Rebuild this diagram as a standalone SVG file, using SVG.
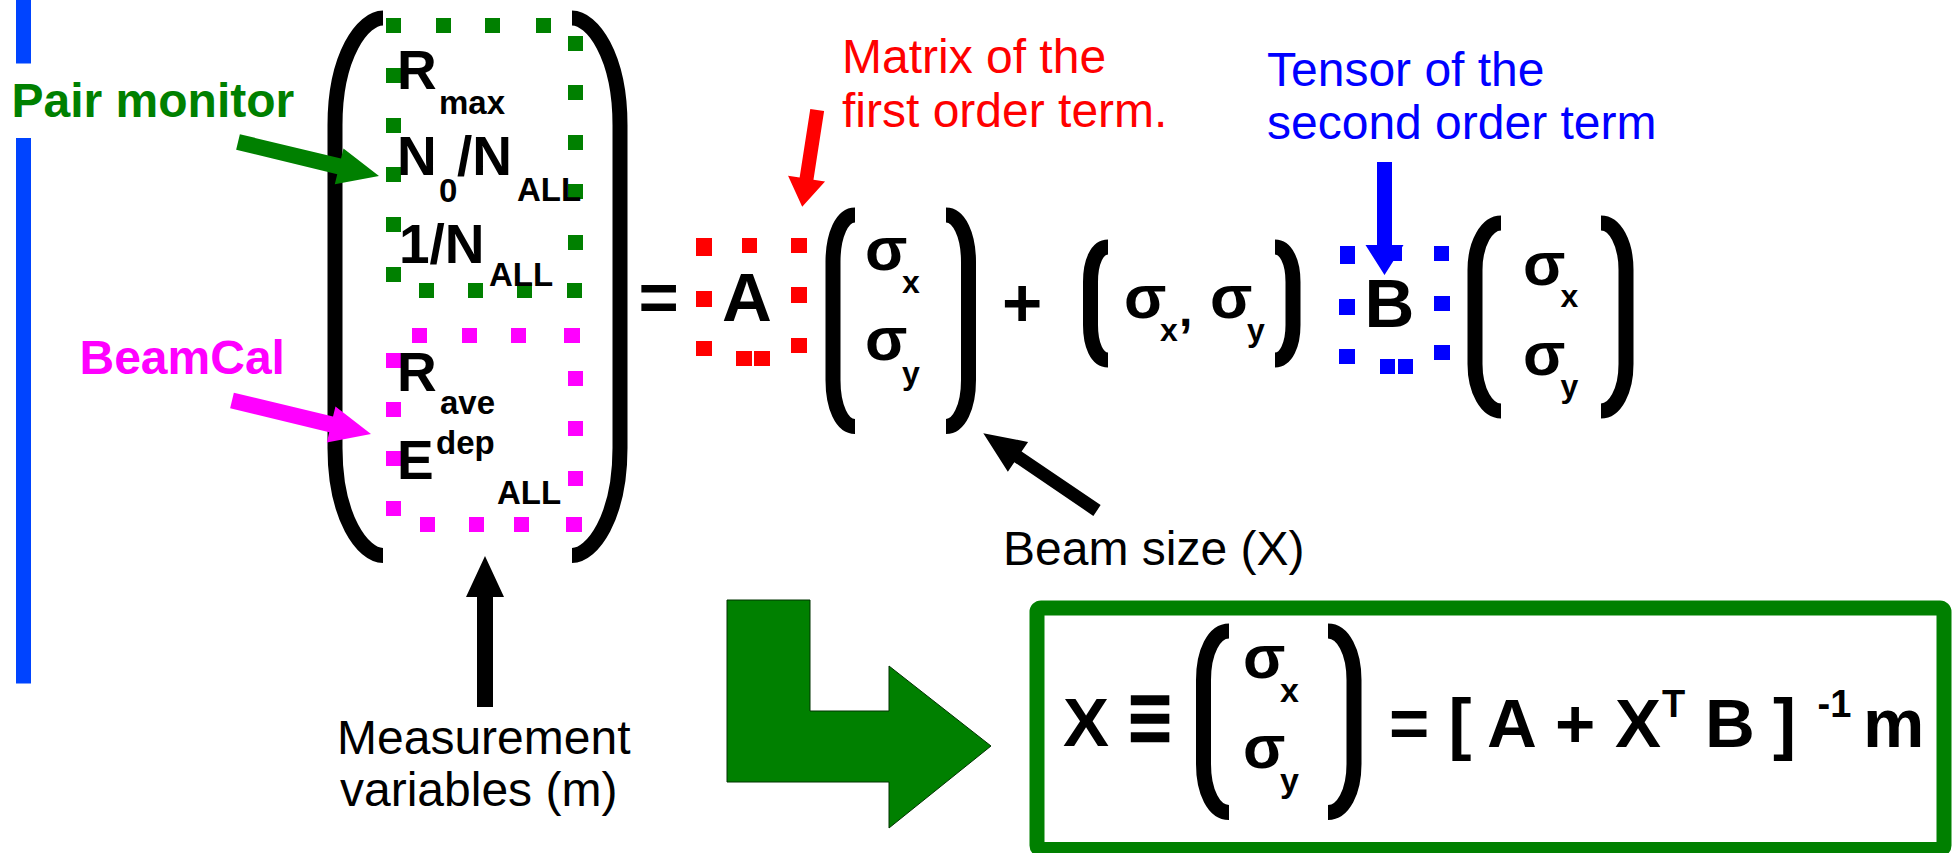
<svg xmlns="http://www.w3.org/2000/svg" width="1958" height="853" viewBox="0 0 1958 853">
<style>
text{font-family:"Liberation Sans",Arial,"DejaVu Sans",sans-serif}
.bk{font-weight:bold;fill:#000}
.m{font-size:55px}
.s{font-size:33px}
.big{font-size:69px}
.sg{font-size:62px}
.sub{font-size:32px}
.lab{font-size:48px}
.par{fill:none;stroke:#000;stroke-width:15;stroke-linecap:butt}
.arr{stroke:none}
</style>
<rect width="1958" height="853" fill="#fff"/>

<g id="left-bar" fill="#0044ff">
<rect x="16" y="0" width="15" height="63.5"/>
<rect x="16" y="138" width="15" height="545.5"/>
</g>

<g id="label-pair-monitor"><text x="11.5" y="117" class="lab" font-weight="bold" fill="#008000">Pair monitor</text></g>
<g id="label-beamcal"><text x="79.5" y="374" class="lab" font-weight="bold" fill="#ff00ff">BeamCal</text></g>

<g id="measurement-vector">
<path class="par" d="M383,18 C363,18 335,55 335,125 L335,448 C335,518 363,555.5 383,555.5"/>
<path class="par" d="M572,18 C592,18 620,55 620,125 L620,448 C620,518 592,555.5 572,555.5"/>
<path id="pair-box" fill="#008000" d="M386,18h15v15h-15z M436,18h15v15h-15z M485,18h15v15h-15z M536,18h15v15h-15z M568,36h15v15h-15z M568,85h15v15h-15z M568,135h15v15h-15z M568,184h15v15h-15z M568,235h15v15h-15z M567,283h15v15h-15z M419,283h15v15h-15z M468,283h15v15h-15z M517,283h15v15h-15z M386,68h15v15h-15z M386,118h15v15h-15z M386,167h15v15h-15z M386,217h15v15h-15z M386,267h15v15h-15z"/>
<path id="beamcal-box" fill="#ff00ff" d="M412,328h15v15h-15z M462,328h15v15h-15z M511,328h15v15h-15z M564,328h16v15h-16z M386,353h15v15h-15z M386,402h15v15h-15z M386,451h15v15h-15z M386,501h15v15h-15z M568,371h15v15h-15z M568,421h15v15h-15z M568,471h15v15h-15z M420,517h15v15h-15z M469,517h15v15h-15z M514,517h15v15h-15z M566,517h16v15h-16z"/>
<text class="bk"><tspan class="m" x="397" y="89">R</tspan><tspan class="s" x="439" y="114">max</tspan></text>
<text class="bk"><tspan class="m" x="397" y="175">N</tspan><tspan class="s" x="439" y="202">0</tspan><tspan class="m" x="457" y="175">/N</tspan><tspan class="s" x="517" y="201">ALL</tspan></text>
<text class="bk"><tspan class="m" x="399" y="262.5">1/N</tspan><tspan class="s" x="489" y="286">ALL</tspan></text>
<text class="bk"><tspan class="m" x="397" y="391">R</tspan><tspan class="s" x="440" y="414">ave</tspan></text>
<text class="bk"><tspan class="m" x="397" y="478.6">E</tspan><tspan class="s" x="436" y="453.6">dep</tspan><tspan class="s" x="497" y="503.6">ALL</tspan></text>
</g>

<g id="equals"><text x="638.5" y="321" class="bk big">=</text></g>

<g id="term-A">
<path fill="#ff0000" d="M696,238h16v18h-16z M742,238h15v15h-15z M791,238h16v15h-16z M696,291h16v16h-16z M696,341h16v15h-16z M791,287h16v16h-16z M791,338h16v15h-16z M736,351h16v15h-16z M754,351h16v15h-16z"/>
<text x="722" y="321" class="bk big">A</text>
</g>

<g id="beam-size-column">
<path class="par" d="M855,215 C842,215 833,235 833,262 L833,380 C833,407 842,426.5 855,426.5"/>
<path class="par" d="M946,215 C959,215 968.5,235 968.5,262 L968.5,380 C968.5,407 959,426.5 946,426.5"/>
<text class="bk"><tspan class="sg" x="865" y="270">σ</tspan><tspan class="sub" x="902" y="293">x</tspan></text>
<text class="bk"><tspan class="sg" x="865" y="360">σ</tspan><tspan class="sub" x="902" y="383.5">y</tspan></text>
</g>

<g id="plus"><text x="1002" y="326" class="bk big">+</text></g>

<g id="beam-size-row">
<path class="par" d="M1108,247 C1097,247 1090.5,262 1090.5,282 L1090.5,325 C1090.5,345 1097,360 1108,360"/>
<path class="par" d="M1275,247 C1286,247 1293,262 1293,282 L1293,325 C1293,345 1286,360 1275,360"/>
<text class="bk"><tspan class="sg" x="1124" y="318">σ</tspan><tspan class="sub" x="1160" y="340.5">x</tspan><tspan font-size="48" x="1179" y="326">,</tspan><tspan class="sg" x="1210" y="318">σ</tspan><tspan class="sub" x="1247" y="340.5">y</tspan></text>
</g>

<g id="term-B">
<path fill="#0000ff" d="M1340,246h15v18h-15z M1388,247h14v14h-14z M1434,246h15v15h-15z M1339,299h16v16h-16z M1339,349h16v15h-16z M1434,296h16v15h-16z M1434,345h16v15h-16z M1380,359h15v15h-15z M1398,359h15v15h-15z"/>
<text x="1364.5" y="327" class="bk big">B</text>
</g>

<g id="beam-size-column-2">
<path class="par" d="M1501,223 C1487,223 1475,243 1475,270 L1475,364 C1475,391 1487,411 1501,411"/>
<path class="par" d="M1601,223 C1615,223 1626,243 1626,270 L1626,364 C1626,391 1615,411 1601,411"/>
<text class="bk"><tspan class="sg" x="1523" y="285">σ</tspan><tspan class="sub" x="1560.5" y="307">x</tspan></text>
<text class="bk"><tspan class="sg" x="1523" y="375">σ</tspan><tspan class="sub" x="1560.5" y="396.5">y</tspan></text>
</g>

<g id="label-matrix" fill="#ff0000"><text class="lab"><tspan x="842" y="72.7">Matrix of the</tspan><tspan x="842" y="126.7">first order term.</tspan></text></g>
<g id="label-tensor" fill="#0000ff"><text class="lab"><tspan x="1267" y="86">Tensor of the</tspan><tspan x="1267" y="139.3">second order term</tspan></text></g>
<g id="label-beam-size"><text x="1003" y="565" class="lab" fill="#000">Beam size (X)</text></g>
<g id="label-measurement" fill="#000"><text class="lab"><tspan x="337" y="754">Measurement</tspan><tspan x="340" y="806">variables (m)</tspan></text></g>

<g id="result-box">
<rect x="1037" y="608" width="907" height="241.5" rx="4" fill="#fff" stroke="#008000" stroke-width="15"/>
<text x="1063" y="746" class="bk big">X</text>
<text transform="translate(1128,754) scale(1.1,1.55)" x="0" y="0" class="bk big" stroke="#000" stroke-width="1.5">≡</text>
<path class="par" stroke-width="16" d="M1229,631 C1214,631 1203.5,652 1203.5,680 L1203.5,764 C1203.5,792 1214,812.5 1229,812.5"/>
<path class="par" stroke-width="16" d="M1328,631 C1343,631 1354,652 1354,680 L1354,764 C1354,792 1343,812.5 1328,812.5"/>
<text class="bk"><tspan class="sg" x="1243" y="678">σ</tspan><tspan font-size="34" x="1280" y="701.7">x</tspan></text>
<text class="bk"><tspan class="sg" x="1243" y="768">σ</tspan><tspan font-size="34" x="1280" y="792">y</tspan></text>
<text class="bk big" y="746.7"><tspan x="1389">=</tspan><tspan x="1448.6">[</tspan><tspan x="1487">A</tspan><tspan x="1555">+</tspan><tspan x="1615">X</tspan><tspan x="1705">B</tspan><tspan x="1773">]</tspan><tspan x="1863">m</tspan></text>
<text class="bk" font-size="38" y="716.7"><tspan x="1662">T</tspan><tspan x="1817.5">-1</tspan></text>
</g>

<g id="connectors">
<polygon class="arr" fill="#008000" points="239.88,134.22 341.02,158.61 343.48,148.41 379,176 334.80,184.37 337.27,174.17 236.13,149.78"/>
<polygon class="arr" fill="#ff00ff" points="233.87,392.72 333.01,416.61 335.48,406.40 371,434 326.81,442.38 329.27,432.17 230.13,408.28"/>
<polygon class="arr" fill="#ff0000" points="810.28,108.93 799.63,177.56 788.07,175.76 802.2,206.7 825.03,181.50 813.47,179.70 824.12,111.07"/>
<polygon class="arr" fill="#0000ff" points="1377,162 1392,162 1392,245 1403.5,245 1384.5,275 1365.5,245 1377,245"/>
<polygon class="arr" fill="#000" points="477,707 477,597 466,597 485,556 504,597 493,597 493,707"/>
<polygon class="arr" fill="#000" points="1100.65,505.12 1021.61,451.46 1028.07,441.95 983.3,433.3 1007.85,471.73 1014.31,462.22 1093.35,515.88"/>
<polygon fill="#008000" stroke="#003300" stroke-width="1" points="727,600 810,600 810,711 889,711 889,666 991,746 889,828 889,782 727,782"/>
</g>
</svg>
